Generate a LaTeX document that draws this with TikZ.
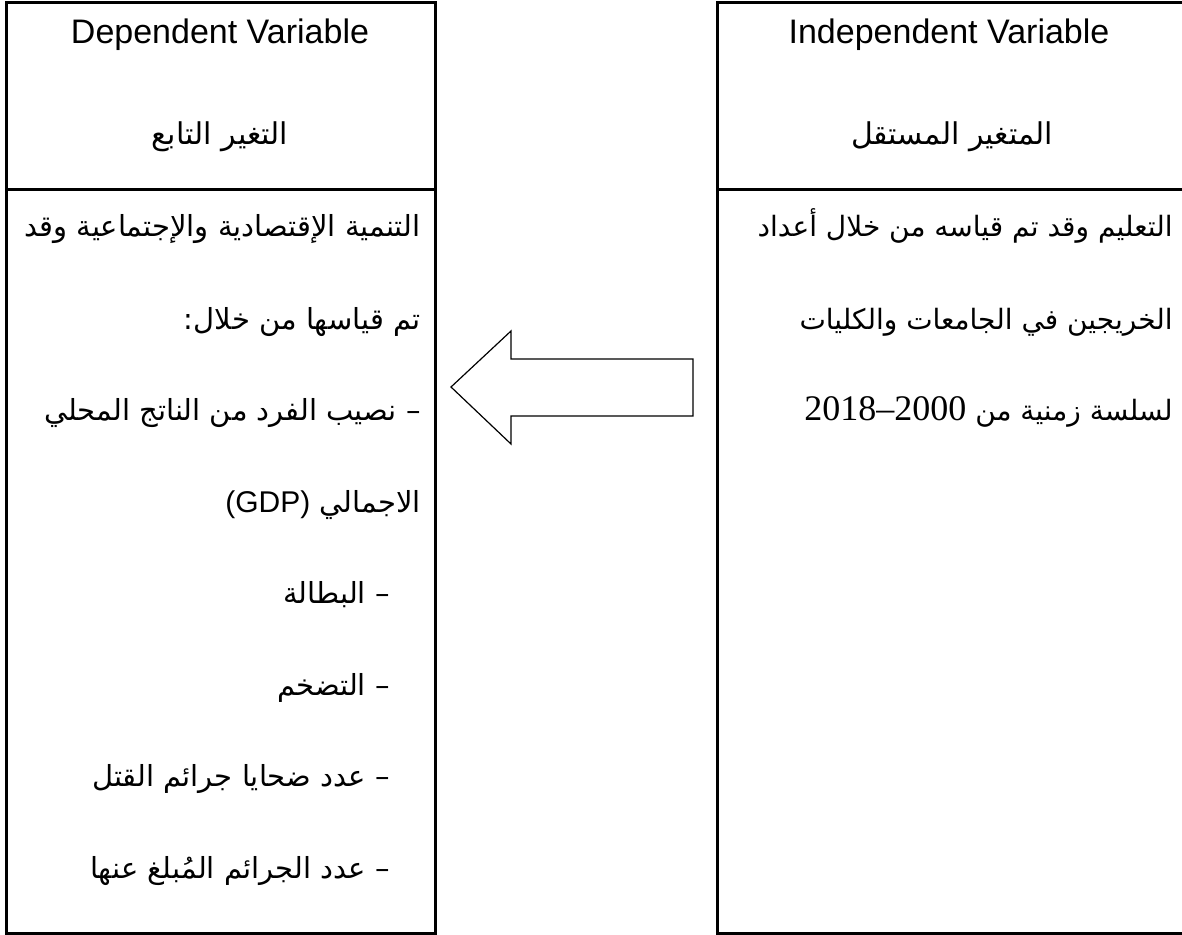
\documentclass[tikz,border=0pt]{standalone}
\usepackage{fontspec}
\setmainfont{Liberation Sans}
\newfontfamily\arabicfont[Script=Arabic]{DejaVu Sans}
\newfontfamily\yearfont{Liberation Serif}
\TeXXeTstate=1
\usetikzlibrary{positioning}

\newcommand{\artxt}[1]{{\arabicfont\beginR #1\endR}}

\begin{document}
\begin{tikzpicture}[x=0.5pt,y=-0.5pt,
	varbox/.style={draw,line width=1.5pt},
	headtext/.style={anchor=base,inner sep=0pt,font=\fontsize{17}{20}\selectfont},
	headarab/.style={anchor=base,inner sep=0pt,font=\fontsize{15}{18}\selectfont},
	bodyline/.style={anchor=east,inner sep=0pt,text height=12pt,text depth=4pt,
		font=\fontsize{14.5}{18}\selectfont},
	indline/.style={bodyline,font=\fontsize{14}{18}\selectfont},
	bigarrow/.style={draw,line width=0.6pt,line join=miter}]
	\useasboundingbox (0,0) rectangle (1182,935);
	% boxes
	\draw[varbox] (6,3) rectangle (435,933);
	\draw[varbox] (6,190) -- (435,190);
	\draw[varbox] (717,3) rectangle (1188,933);
	\draw[varbox] (717,190) -- (1188,190);
	% headers
	\node[headtext] (dephead) at (220,44) {Dependent Variable};
	\node[headarab] (deparab) at (220,145) {\artxt{التغير التابع}};
	\node[headtext] (indhead) at (949,44) {Independent Variable};
	\node[headarab] (indarab) at (952,145) {\artxt{المتغير المستقل}};
	% dependent variable
	\node[bodyline] (dep1) at (421,229) {\artxt{التنمية الإقتصادية والإجتماعية وقد}};
	\node[bodyline] (dep2) at (421,321) {\artxt{تم قياسها من خلال:}};
	\node[bodyline] (dep3) at (421,412) {\artxt{– نصيب الفرد من الناتج المحلي}};
	\node[bodyline] (dep4) at (421,504) {\artxt{الاجمالي {\rmfamily\fontsize{15}{18}\selectfont\beginL(GDP)\endL}}};
	\node[bodyline] (dep5) at (390,595) {\artxt{– البطالة}};
	\node[bodyline] (dep6) at (390,687) {\artxt{– التضخم}};
	\node[bodyline] (dep7) at (390,778) {\artxt{– عدد ضحايا جرائم القتل}};
	\node[bodyline] (dep8) at (390,870) {\artxt{– عدد الجرائم المُبلغ عنها}};
	% independent variable
	\node[indline] (ind1) at (1173,229) {\artxt{التعليم وقد تم قياسه من خلال أعداد}};
	\node[indline] (ind2) at (1173,321) {\artxt{الخريجين في الجامعات والكليات}};
	\node[indline] (ind3) at (1173,412) {\artxt{لسلسة زمنية من {\yearfont\fontsize{18}{20}\selectfont\beginL 2018–2000\endL}}};
	% arrow
	\draw[bigarrow] (693,359) -- (511,359) -- (511,331) -- (451,387)
		-- (511,444) -- (511,416) -- (693,416) -- cycle;
\end{tikzpicture}
\end{document}
